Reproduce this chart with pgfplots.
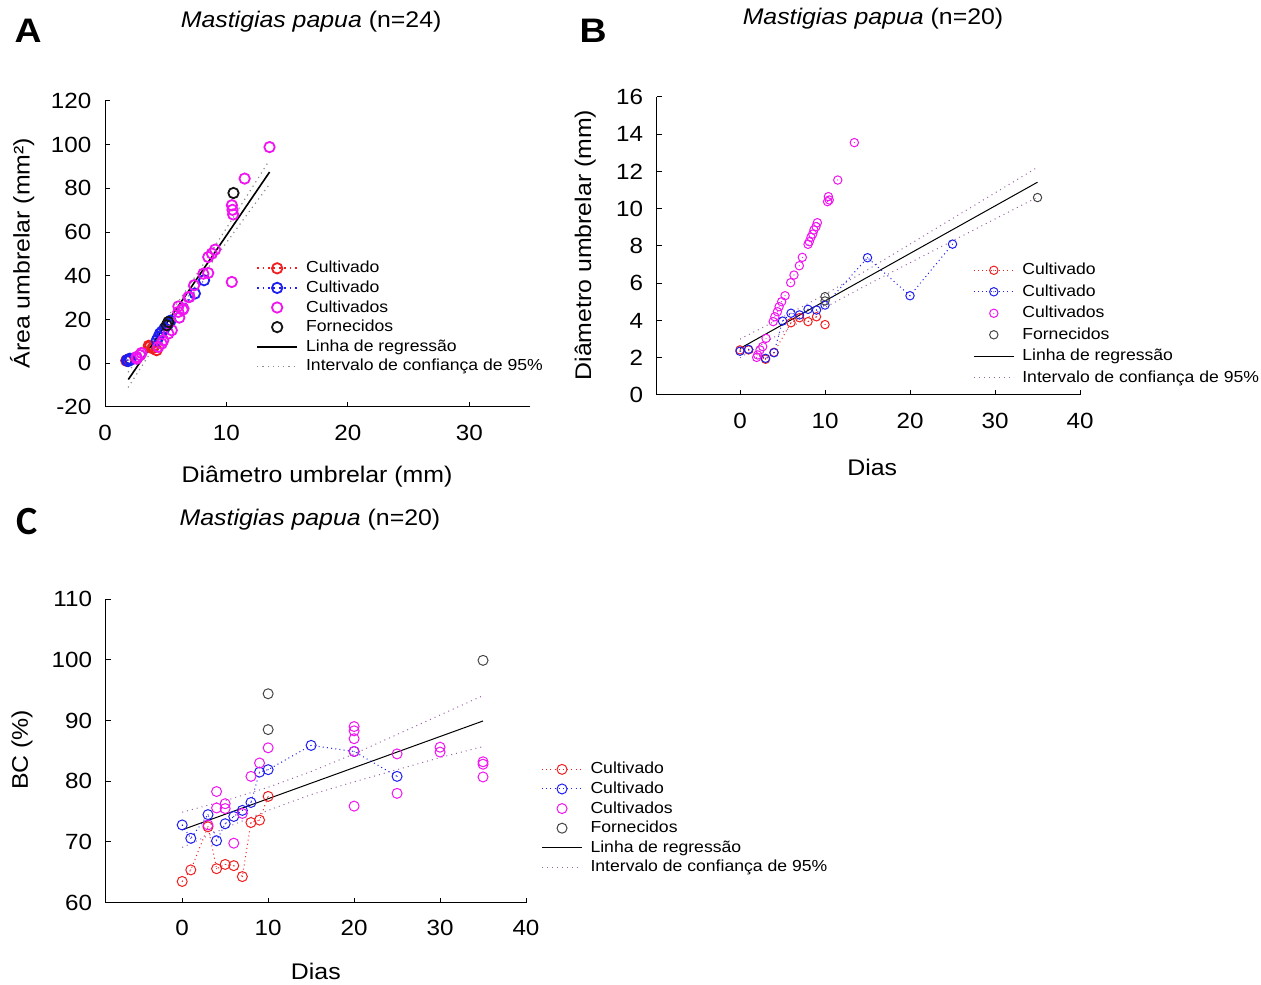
\documentclass[border=0pt]{standalone}
\usepackage{pgfplots}
\pgfplotsset{compat=1.18}
\usepackage{fontspec}
\setmainfont{Liberation Sans}[FakeStretch=1.1]
\newfontfamily\carlito{Carlito}
\definecolor{cred}{RGB}{240,30,30}
\definecolor{cblue}{RGB}{30,30,240}
\definecolor{cmag}{RGB}{240,20,240}
\definecolor{cblk}{RGB}{20,20,20}
\definecolor{cdk}{RGB}{70,70,70}
\definecolor{cci}{RGB}{140,140,140}
\definecolor{cpur}{RGB}{150,100,160}

\pgfdeclareplotmark{odot}{%
  \pgfpathcircle{\pgfpointorigin}{\pgfplotmarksize}\pgfusepathqstroke
  \pgfpathcircle{\pgfpointorigin}{0.3pt}\pgfusepathqfill}

\pgfplotsset{
  panel/.style={
    scale only axis,
    axis lines=left, axis line style={-, black, line width=0.5pt},
    tick align=inside, major tick length=2.5pt,
    tick style={black, line width=0.5pt},
    /pgf/number format/assume math mode=true,
    tick label style={font=\fontsize{11}{13}\selectfont},
    xticklabel style={yshift=-5.5pt},
    yticklabel style={xshift=-3.3pt},
    clip=false,
    legend style={draw=none, fill=none, anchor=north west, inner sep=0pt,
      font=\fontsize{8}{9}\selectfont,
      nodes={inner sep=0pt, text height=6.2pt, text depth=1.6pt},
      row sep=2pt,
      /tikz/every odd column/.append style={column sep=4pt}},
    legend cell align=left,
    legend image code/.code={\draw[mark repeat=2,mark phase=2,##1] plot coordinates {(0pt,0pt)(10pt,0pt)(20pt,0pt)};},
  },
}
\tikzset{
  txt/.style={font=\fontsize{11.3}{13}\selectfont},
  let/.style={font=\bfseries\fontsize{17}{20}\selectfont},
}

\begin{document}
\begin{tikzpicture}
\path[use as bounding box] (0,0) rectangle (630.5pt,492pt);

%%%%%%%%%%%%%%%% A
\begin{axis}[panel, at={(52.5pt,288.5pt)}, width=212.5pt, height=153pt,
  xmin=0, xmax=35, ymin=-20, ymax=120, xtick={0,10,20,30}, ytick={-20,0,20,40,60,80,100,120},
  legend style={at={(0.355,0.480)}}]
\addlegendimage{cred, line width=0.9pt, dash pattern=on 0.9pt off 1.8pt, mark=o, mark size=2.6pt, mark options={solid}}
\addlegendentry{Cultivado}
\addlegendimage{cblue, line width=0.9pt, dash pattern=on 0.9pt off 1.8pt, mark=o, mark size=2.6pt, mark options={solid}}
\addlegendentry{Cultivado}
\addlegendimage{only marks, cmag, line width=0.9pt, mark=o, mark size=2.6pt}
\addlegendentry{Cultivados}
\addlegendimage{only marks, cblk, line width=0.9pt, mark=o, mark size=2.6pt}
\addlegendentry{Fornecidos}
\addlegendimage{black, line width=0.8pt, mark=none}
\addlegendentry{Linha de regressão}
\addlegendimage{cci, line width=0.6pt, dash pattern=on 0.6pt off 2pt, mark=none}
\addlegendentry{Intervalo de confiança de 95\%}

\addplot[forget plot, cci, line width=0.6pt, dash pattern=on 0.6pt off 2pt] coordinates
 {(1.9,-4.1)(4,12.04)(6,27.86)(8,44.48)(10,61.8)(12,79.32)(13.5,92.56)};
\addplot[forget plot, cci, line width=0.6pt, dash pattern=on 0.6pt off 2pt] coordinates
 {(1.9,-11.1)(4,7.04)(6,23.86)(8,39.88)(10,55.2)(12,70.32)(13.5,81.56)};

\addplot[forget plot, cred, line width=0.5pt, dash pattern=on 0.5pt off 1.8pt, mark=o, mark size=2.6pt, mark options={solid, line width=0.9pt}] coordinates
 {(1.8,1.3)(1.9,1.7)(1.75,1.2)(2.0,1.6)(3.6,8.0)(3.9,6.9)(4.0,7.3)(4.25,6.0)(3.7,7.6)};
\addplot[forget plot, cblue, line width=0.5pt, dash pattern=on 0.5pt off 1.8pt, mark=o, mark size=2.6pt, mark options={solid, line width=0.9pt}] coordinates
 {(1.8,1.4)(2.05,2.1)(1.9,1.0)(2.1,1.6)(4.26,10.5)(4.4,12.0)(4.53,13.6)(4.7,14.5)(4.9,16.0)(5.2,18.0)(7.4,31.9)(5.4,19.5)(8.16,38.0)};
\addplot[forget plot, only marks, cmag, line width=0.9pt, mark=o, mark size=2.6pt] coordinates
 {(13.55,98.9)(11.5,84.5)(10.45,72.3)(10.5,70.2)(10.55,68.1)(10.44,37.2)(9.07,52)(8.8,50.2)(8.5,48.6)
  (8.5,41.3)(8.1,41)(7.34,35.7)(6.95,30.3)(6.87,30.3)(6.46,25)(6.04,23.5)(6.12,20.9)(6.4,24.5)(6.04,26)
  (5.5,15.1)(5.22,13.6)(4.8,10.5)(4.67,9)(4.4,7.5)(2.89,3.7)(2.61,2.1)(3.0,4.7)(2.6,2.9)};
\addplot[forget plot, only marks, cblk, line width=0.9pt, mark=o, mark size=2.6pt] coordinates
 {(5.22,18.9)(5.08,17.4)(10.58,77.9)};
\addplot[forget plot, black, line width=0.8pt] coordinates {(1.92,-7.43)(13.55,87.47)};

\node[txt] at (axis description cs:0.485,1.258) {\textit{Mastigias papua} (n=24)};
\node[txt] at (axis description cs:0.499,-0.229) {Diâmetro umbrelar (mm)};
\node[txt, rotate=90] at (axis description cs:-0.195,0.503) {Área umbrelar (mm²)};
\node[let] at (axis description cs:-0.181,1.229) {A};
\end{axis}

%%%%%%%%%%%%%%%% B
\begin{axis}[panel, at={(328.35pt,294.5pt)}, width=211.65pt, height=149pt,
  xmin=-9.8, xmax=40, ymin=0, ymax=16, xtick={0,10,20,30,40}, ytick={0,2,4,6,8,10,12,14,16},
  legend style={at={(0.747,0.446)}, row sep=2.95pt}]
\addlegendimage{cred, line width=0.5pt, dash pattern=on 0.5pt off 1.6pt, mark=odot, mark size=2.1pt, mark options={solid}}
\addlegendentry{Cultivado}
\addlegendimage{cblue, line width=0.5pt, dash pattern=on 0.5pt off 1.6pt, mark=odot, mark size=2.1pt, mark options={solid}}
\addlegendentry{Cultivado}
\addlegendimage{only marks, cmag, line width=0.5pt, mark=odot, mark size=2.1pt}
\addlegendentry{Cultivados}
\addlegendimage{only marks, cdk, line width=0.5pt, mark=o, mark size=2.1pt}
\addlegendentry{Fornecidos}
\addlegendimage{black, line width=0.5pt, mark=none}
\addlegendentry{Linha de regressão}
\addlegendimage{cpur, line width=0.5pt, dash pattern=on 0.5pt off 2pt, mark=none}
\addlegendentry{Intervalo de confiança de 95\%}

\addplot[forget plot, cpur, line width=0.5pt, dash pattern=on 0.5pt off 2pt] coordinates
 {(0,3.0)(5,4.175)(10,5.4)(15,6.725)(20,8.1)(25,9.475)(30,10.85)(35,12.225)};
\addplot[forget plot, cpur, line width=0.5pt, dash pattern=on 0.5pt off 2pt] coordinates
 {(0,2.0)(5,3.375)(10,4.7)(15,5.925)(20,7.1)(25,8.275)(30,9.45)(35,10.625)};
\addplot[forget plot, black, line width=0.5pt] coordinates {(0,2.5)(35,11.425)};

\addplot[forget plot, cred, line width=0.5pt, dash pattern=on 0.5pt off 1.6pt, mark=odot, mark size=2.1pt, mark options={solid}] coordinates
 {(0,2.42)(1,2.42)(3,1.92)(4,2.29)(6,3.88)(7,4.15)(8,3.94)(9,4.2)(10,3.78)};
\addplot[forget plot, cblue, line width=0.5pt, dash pattern=on 0.5pt off 1.6pt, mark=odot, mark size=2.1pt, mark options={solid}] coordinates
 {(0,2.35)(1,2.45)(3,1.97)(4,2.27)(5,3.97)(6,4.39)(7,4.3)(8,4.6)(9,4.56)(10,4.83)(15,7.37)(20,5.33)(25,8.1)};
\addplot[forget plot, only marks, cmag, line width=0.5pt, mark=odot, mark size=2.1pt] coordinates
 {(13.45,13.55)(11.5,11.54)(10.4,10.65)(10.5,10.47)(10.3,10.38)(9.1,9.25)(8.94,9.04)(8.7,8.86)(8.55,8.64)
  (8.35,8.47)(8.15,8.23)(8.0,8.09)(7.33,7.39)(6.98,6.94)(6.35,6.44)(5.96,6.03)(5.3,5.33)(4.9,5.01)(4.6,4.74)
  (4.4,4.47)(4.1,4.2)(3.9,3.94)(3.06,3.04)(2.67,2.6)(2.35,2.42)(2.08,2.15)(1.96,2.02)};
\addplot[forget plot, only marks, cdk, line width=0.5pt, mark=o, mark size=2.1pt] coordinates
 {(10,5.28)(10,5.05)(35,10.6)};

\node[txt] at (axis description cs:0.511,1.262) {\textit{Mastigias papua} (n=20)};
\node[txt] at (axis description cs:0.509,-0.242) {Dias};
\node[txt, rotate=90] at (axis description cs:-0.169,0.503) {Diâmetro umbrelar (mm)};
\node[let] at (axis description cs:-0.150,1.221) {B};
\end{axis}

%%%%%%%%%%%%%%%% C
\begin{axis}[panel, at={(52.85pt,40.65pt)}, width=210.15pt, height=151.85pt,
  xmin=-8.9, xmax=40, ymin=60, ymax=110, xtick={0,10,20,30,40}, ytick={60,70,80,90,100,110},
  xticklabel style={yshift=0.5pt},
  legend style={at={(1.036,0.466)}}]
\addlegendimage{cred, line width=0.5pt, dash pattern=on 0.5pt off 1.6pt, mark=o, mark size=2.5pt, mark options={solid}}
\addlegendentry{Cultivado}
\addlegendimage{cblue, line width=0.5pt, dash pattern=on 0.5pt off 1.6pt, mark=o, mark size=2.5pt, mark options={solid}}
\addlegendentry{Cultivado}
\addlegendimage{only marks, cmag, line width=0.5pt, mark=o, mark size=2.5pt}
\addlegendentry{Cultivados}
\addlegendimage{only marks, cdk, line width=0.5pt, mark=o, mark size=2.5pt}
\addlegendentry{Fornecidos}
\addlegendimage{black, line width=0.5pt, mark=none}
\addlegendentry{Linha de regressão}
\addlegendimage{cpur, line width=0.5pt, dash pattern=on 0.5pt off 2pt, mark=none}
\addlegendentry{Intervalo de confiança de 95\%}

\addplot[forget plot, cpur, line width=0.5pt, dash pattern=on 0.5pt off 2pt] coordinates
 {(0,74.9)(5,76.8)(10,79.0)(15,81.6)(20,84.5)(25,87.7)(30,90.9)(35,94.1)};
\addplot[forget plot, cpur, line width=0.5pt, dash pattern=on 0.5pt off 2pt] coordinates
 {(0,69.1)(5,72.3)(10,75.2)(15,77.8)(20,79.9)(25,81.9)(30,83.9)(35,85.7)};
\addplot[forget plot, black, line width=0.5pt] coordinates {(0,72.0)(35,89.92)};

\addplot[forget plot, cred, line width=0.5pt, dash pattern=on 0.5pt off 1.6pt, mark=odot, mark size=2.5pt, mark options={solid}] coordinates
 {(0,63.5)(1,65.4)(3,72.5)(4,65.6)(5,66.3)(6,66.1)(7,64.3)(8,73.2)(9,73.6)(10,77.5)};
\addplot[forget plot, cblue, line width=0.5pt, dash pattern=on 0.5pt off 1.6pt, mark=odot, mark size=2.5pt, mark options={solid}] coordinates
 {(0,72.8)(1,70.6)(3,74.5)(4,70.2)(5,73.0)(6,74.2)(7,75.2)(8,76.5)(9,81.5)(10,81.9)(15,85.9)(20,84.9)(25,80.8)};
\addplot[forget plot, only marks, cmag, line width=0.5pt, mark=o, mark size=2.5pt] coordinates
 {(3,72.8)(4,78.3)(4,75.6)(5,76.3)(5,75.5)(6,69.8)(7,74.7)(8,80.8)(9,83.0)(10,85.5)
  (20,89.0)(20,88.3)(20,87.0)(20,84.9)(20,75.9)(25,84.5)(25,78.0)(30,85.6)(30,84.8)
  (35,83.2)(35,82.8)(35,80.7)};
\addplot[forget plot, only marks, cdk, line width=0.5pt, mark=o, mark size=2.5pt] coordinates
 {(10,94.4)(10,88.5)(35,99.9)};

\node[txt] at (axis description cs:0.486,1.261) {\textit{Mastigias papua} (n=20)};
\node[txt] at (axis description cs:0.500,-0.225) {Dias};
\node[txt, rotate=90] at (axis description cs:-0.199,0.503) {BC (\%)};
\node[font=\carlito\bfseries\fontsize{20}{22}\selectfont] at (axis description cs:-0.187,1.254) {C};
\end{axis}
\end{tikzpicture}
\end{document}
